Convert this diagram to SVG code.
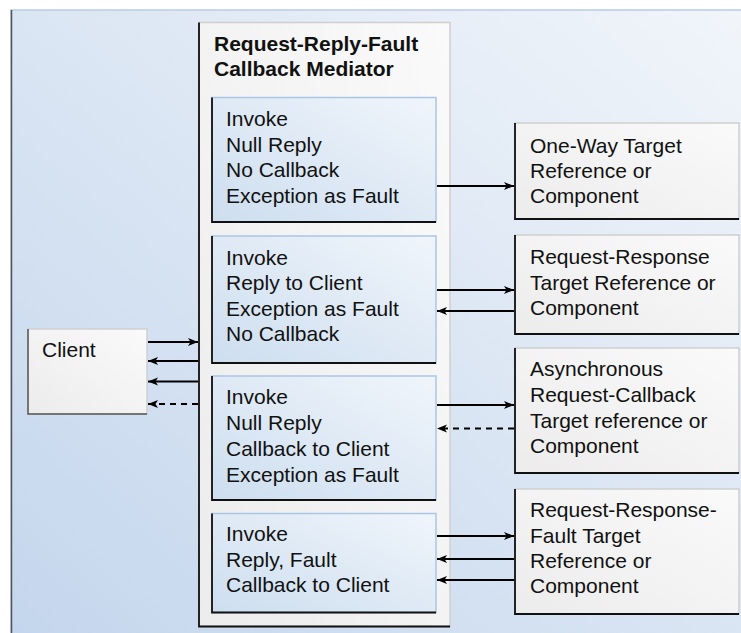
<svg xmlns="http://www.w3.org/2000/svg" width="741" height="633" viewBox="0 0 741 633">
<defs>
<linearGradient id="gPanel" x1="1" y1="0" x2="0" y2="1">
<stop offset="0" stop-color="#f1f5fa"/>
<stop offset="1" stop-color="#c4d6ed"/>
</linearGradient>
<linearGradient id="gInner" x1="1" y1="0" x2="0" y2="1">
<stop offset="0" stop-color="#f0f5fb"/>
<stop offset="1" stop-color="#cddeef"/>
</linearGradient>
<linearGradient id="gWhite" x1="1" y1="0" x2="0" y2="1">
<stop offset="0" stop-color="#fafafa"/>
<stop offset="1" stop-color="#ececec"/>
</linearGradient>
<marker id="ah" markerUnits="userSpaceOnUse" markerWidth="11" markerHeight="9" refX="10" refY="4.5" orient="auto">
<path d="M0,0.5 L10,4.5 L0,8.5 L2.5,4.5 z" fill="#000"/>
</marker>
</defs>
<style>
text{font-family:"Liberation Sans",Arial,Helvetica,sans-serif;font-size:21px;fill:#111}
.title{font-weight:bold}
.light{stroke:#cfcfcf;stroke-width:1.5}
.blue{stroke:#a9c6e6;stroke-width:1.5}
.edge{fill:none;stroke:#111;stroke-width:1.8}
.edgeg{fill:none;stroke:#555;stroke-width:1.5}
.conn line{stroke:#000;stroke-width:2;marker-end:url(#ah)}
.conn .dash{stroke-dasharray:6,5}
</style>
<rect x="0" y="0" width="741" height="633" fill="#fff"/>
<g id="panel">
<rect x="11" y="10" width="731" height="624" fill="url(#gPanel)" stroke="#b9cde4" stroke-width="1.5"/>
<path d="M11.5,10 L11.5,633" class="edgeg"/>
</g>
<g id="client">
<rect x="28" y="329" width="119" height="85" fill="url(#gWhite)" class="light"/>
<path d="M28,329 L28,414 L147,414" class="edgeg"/>
<text x="42" y="357">Client</text>
</g>
<g id="mediator">
<rect x="199" y="22.5" width="251" height="604" fill="url(#gWhite)" class="light"/>
<path d="M199,22.5 L199,626.5 L450,626.5" class="edge"/>
<text class="title" x="214" y="51">Request-Reply-Fault</text>
<text class="title" x="214" y="76">Callback Mediator</text>
</g>
<g id="inner1">
<rect x="212" y="97.5" width="224" height="124.5" fill="url(#gInner)" class="blue"/>
<path d="M212,97.5 L212,222 L436,222" class="edge"/>
<text x="226" y="126">Invoke</text>
<text x="226" y="151.5">Null Reply</text>
<text x="226" y="177">No Callback</text>
<text x="226" y="202.5">Exception as Fault</text>
</g>
<g id="inner2">
<rect x="212" y="236" width="224" height="127" fill="url(#gInner)" class="blue"/>
<path d="M212,236 L212,363 L436,363" class="edge"/>
<text x="226" y="264.5">Invoke</text>
<text x="226" y="290">Reply to Client</text>
<text x="226" y="315.5">Exception as Fault</text>
<text x="226" y="341">No Callback</text>
</g>
<g id="inner3">
<rect x="212" y="376" width="224" height="124" fill="url(#gInner)" class="blue"/>
<path d="M212,376 L212,500 L436,500" class="edge"/>
<text x="226" y="404">Invoke</text>
<text x="226" y="430">Null Reply</text>
<text x="226" y="456">Callback to Client</text>
<text x="226" y="482">Exception as Fault</text>
</g>
<g id="inner4">
<rect x="212" y="513.5" width="224" height="99" fill="url(#gInner)" class="blue"/>
<path d="M212,513.5 L212,612.5 L436,612.5" class="edge"/>
<text x="226" y="541">Invoke</text>
<text x="226" y="567">Reply, Fault</text>
<text x="226" y="592">Callback to Client</text>
</g>
<g id="target1">
<rect x="515" y="123" width="224" height="96" fill="url(#gWhite)" class="light"/>
<path d="M515,123 L515,219 L739,219" class="edge"/>
<text x="530" y="152.5">One-Way Target</text>
<text x="530" y="177.5">Reference or</text>
<text x="530" y="203">Component</text>
</g>
<g id="target2">
<rect x="515" y="235" width="224" height="99" fill="url(#gWhite)" class="light"/>
<path d="M515,235 L515,334 L739,334" class="edge"/>
<text x="530" y="264">Request-Response</text>
<text x="530" y="289.5">Target Reference or</text>
<text x="530" y="314.5">Component</text>
</g>
<g id="target3">
<rect x="515" y="348" width="224" height="125" fill="url(#gWhite)" class="light"/>
<path d="M515,348 L515,473 L739,473" class="edge"/>
<text x="530" y="376">Asynchronous</text>
<text x="530" y="401.5">Request-Callback</text>
<text x="530" y="427.5">Target reference or</text>
<text x="530" y="452.5">Component</text>
</g>
<g id="target4">
<rect x="515" y="489" width="224" height="125" fill="url(#gWhite)" class="light"/>
<path d="M515,489 L515,614 L739,614" class="edge"/>
<text x="530" y="517">Request-Response-</text>
<text x="530" y="542.5">Fault Target</text>
<text x="530" y="567.5">Reference or</text>
<text x="530" y="592.5">Component</text>
</g>
<g id="connectors" class="conn">
<line x1="148" y1="342" x2="198" y2="342"/>
<line x1="198" y1="361" x2="148" y2="361"/>
<line x1="198" y1="381.5" x2="148" y2="381.5"/>
<line class="dash" x1="198" y1="404" x2="148" y2="404"/>
<line x1="437" y1="186" x2="514" y2="186"/>
<line x1="437" y1="290" x2="514" y2="290"/>
<line x1="514" y1="311" x2="437" y2="311"/>
<line x1="437" y1="405" x2="514" y2="405"/>
<line class="dash" x1="514" y1="428.5" x2="437" y2="428.5"/>
<line x1="437" y1="536" x2="514" y2="536"/>
<line x1="514" y1="559" x2="437" y2="559"/>
<line x1="514" y1="580" x2="437" y2="580"/>
</g>
</svg>
